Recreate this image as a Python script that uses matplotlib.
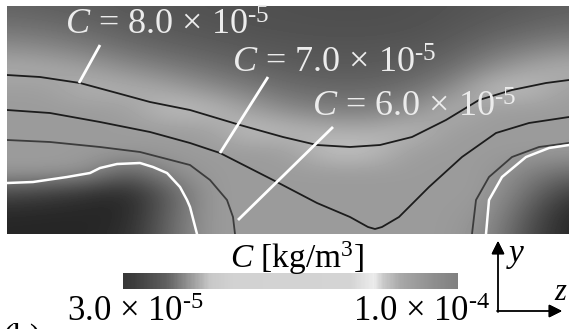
import numpy as np
import matplotlib.pyplot as plt
from matplotlib.colors import LinearSegmentedColormap, Normalize
from matplotlib.colorbar import ColorbarBase

plt.rcParams['font.family'] = ['Liberation Serif', 'DejaVu Serif']
plt.rcParams['mathtext.fontset'] = 'custom'
plt.rcParams['mathtext.rm'] = 'Liberation Serif'
plt.rcParams['mathtext.it'] = 'Liberation Serif:italic'

W, H = 569, 329   # output size in pixels

# background concentration field, sampled as grey levels (top row first)
grid_z = np.linspace(0, 562, 15)
grid_y = np.linspace(228, 0, 12)
field_gray = np.array([
    [98, 95, 92, 88, 84, 82, 80, 79, 78, 78, 79, 82, 86, 90, 94],
    [115, 110, 102, 94, 88, 85, 82, 81, 80, 80, 81, 85, 92, 100, 108],
    [142, 136, 124, 110, 100, 94, 89, 86, 85, 85, 87, 92, 110, 126, 138],
    [172, 170, 160, 142, 127, 113, 101, 94, 91, 91, 95, 108, 140, 166, 176],
    [158, 158, 178, 176, 165, 145, 126, 110, 104, 104, 112, 136, 188, 188, 158],
    [155, 155, 155, 158, 190, 188, 162, 138, 127, 126, 140, 178, 157, 155, 155],
    [155, 155, 155, 155, 155, 158, 192, 185, 175, 172, 186, 157, 155, 155, 155],
    [155, 155, 155, 155, 155, 155, 155, 158, 195, 194, 157, 155, 155, 155, 155],
    [155, 155, 150, 95, 140, 155, 155, 155, 155, 155, 155, 155, 155, 130, 110],
    [75, 65, 50, 40, 90, 155, 155, 155, 155, 155, 155, 155, 155, 110, 62],
    [40, 38, 38, 38, 95, 155, 155, 155, 155, 155, 155, 155, 148, 88, 38],
    [38, 38, 38, 45, 100, 155, 155, 155, 155, 155, 155, 155, 140, 75, 38],
]) / 255.0

# iso-lines
c8_z = [0, 33, 73, 110, 143, 183, 233, 276, 310, 343, 373, 405, 439, 472, 505, 539, 562]
c8_y = [159, 157, 151, 141, 132, 124, 109, 97, 89, 87, 89, 97, 114, 134, 144, 151, 154]

c7_z = [0, 43, 93, 143, 183, 213, 266, 310, 343, 361, 368, 375, 392, 422, 455, 489, 522, 562]
c7_y = [124, 121, 112, 102, 91, 81, 54, 31, 17, 7, 5, 7, 17, 47, 77, 101, 111, 117]

c6L_z = [0, 43, 93, 133, 183, 203, 220, 226, 228]
c6L_y = [94, 92, 87, 82, 69, 54, 34, 17, 0]
c6R_z = [465, 469, 482, 505, 532, 562]
c6R_y = [0, 34, 57, 77, 87, 91]

wL_z = [0, 26, 60, 83, 93, 110, 133, 146, 160, 173, 180, 183, 190]
wL_y = [51, 52, 57, 61, 66, 70, 71, 67, 61, 47, 34, 27, 0]
wR_z = [479, 482, 495, 519, 542, 562]
wR_y = [0, 34, 57, 77, 86, 89]

# labels and leader lines (superscript uses a hyphen as in the original)
labels = ['$C$ = 8.0 × 10$^{\u20105}$',
          '$C$ = 7.0 × 10$^{\u20105}$',
          '$C$ = 6.0 × 10$^{\u20105}$']
label_z = [58, 225, 305]
label_y = [199, 161, 117]
lead_z = [[93, 72], [261, 213], [326, 231]]
lead_y = [[189, 151], [157, 81], [107, 14]]

# colour bar
cbar_pos = [0, .03, .13, .19, .23, .26, .33, .68, .75, .78, .83, .92, 1.0]
cbar_gray = [55, 60, 96, 144, 176, 200, 210, 212, 236, 200, 168, 144, 128]
cbar_min, cbar_max = 3.0e-5, 1.0e-4
cbar_ticklabels = ['3.0 × 10$^{\u20105}$', '1.0 × 10$^{\u20104}$']


def fx(x):
    return x / W


def fy(y):
    return 1 - y / H


fig = plt.figure(figsize=(W / 100, H / 100), dpi=100)

ax = fig.add_axes([fx(7), fy(234), fx(562), 228 / H])
dz = grid_z[1] - grid_z[0]
dy = grid_y[0] - grid_y[1]
ax.imshow(field_gray, cmap='gray', vmin=0, vmax=1, aspect='auto',
          interpolation='bicubic', origin='upper',
          extent=[-dz / 2, 562 + dz / 2, -dy / 2, 228 + dy / 2])

ax.plot(c8_z, c8_y, color='#1c1c1c', lw=1.3)
ax.plot(c7_z, c7_y, color='#1c1c1c', lw=1.3)
ax.plot(c6L_z, c6L_y, color='#3c3c3c', lw=1.3)
ax.plot(c6R_z, c6R_y, color='#3c3c3c', lw=1.3)
ax.plot(wL_z, wL_y, color='white', lw=1.8)
ax.plot(wR_z, wR_y, color='white', lw=1.8)

for lz, ly in zip(lead_z, lead_y):
    ax.plot(lz, ly, color='white', lw=2.0, solid_capstyle='butt')
for txt, tz, ty in zip(labels, label_z, label_y):
    ax.text(tz, ty, txt, color='#ececec', fontsize=26, ha='left', va='baseline')

ax.set_xlim(0, 562)
ax.set_ylim(0, 228)
ax.axis('off')

# colour bar
cmap = LinearSegmentedColormap.from_list(
    'cgray', [(p, (g / 255, g / 255, g / 255)) for p, g in zip(cbar_pos, cbar_gray)])
cax = fig.add_axes([fx(123), fy(289), fx(335), 16 / H])
cb = ColorbarBase(cax, cmap=cmap, norm=Normalize(cbar_min, cbar_max),
                  orientation='horizontal', ticks=[])
cb.outline.set_visible(False)

fig.text(fx(297), fy(268), r'$C$ [kg/m$^3$]', fontsize=24, ha='center', va='baseline')
fig.text(fx(67), fy(321), cbar_ticklabels[0], fontsize=25, ha='left', va='baseline')
fig.text(fx(490), fy(321), cbar_ticklabels[1], fontsize=25, ha='right', va='baseline')
fig.text(fx(2), fy(323), '(b)', fontsize=24, ha='left', va='top')

# y / z direction marker
fig.add_artist(plt.annotate('', xy=(fx(498), fy(241)), xytext=(fx(498), fy(312)),
                            xycoords='figure fraction', textcoords='figure fraction',
                            arrowprops=dict(arrowstyle='-|>', color='black', lw=1.0,
                                            mutation_scale=20, shrinkA=0, shrinkB=0)))
fig.add_artist(plt.annotate('', xy=(fx(562), fy(311)), xytext=(fx(497), fy(311)),
                            xycoords='figure fraction', textcoords='figure fraction',
                            arrowprops=dict(arrowstyle='-|>', color='black', lw=1.0,
                                            mutation_scale=20, shrinkA=0, shrinkB=0)))
fig.text(fx(506), fy(262), r'$y$', fontsize=24, ha='left', va='baseline')
fig.text(fx(554), fy(300), r'$z$', fontsize=22, ha='left', va='baseline')

fig.savefig('out.png', dpi=100)
